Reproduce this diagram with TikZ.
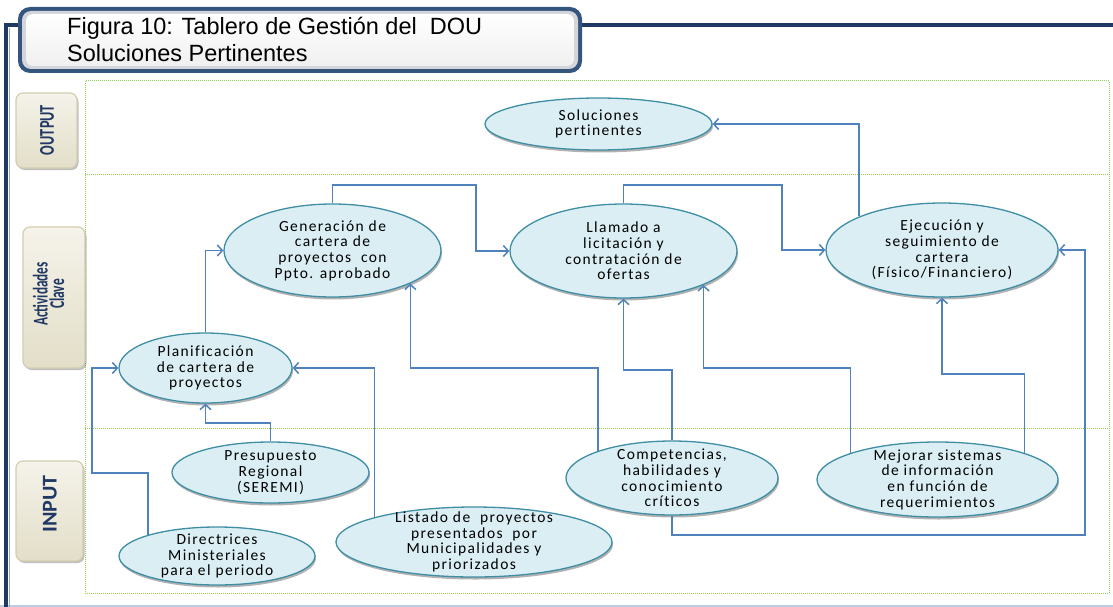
\documentclass[tikz,border=0pt]{standalone}
\usepackage{fontspec}
\setmainfont{Carlito}
\newfontfamily\headfont{Liberation Sans}
\newfontfamily\bubblefont[LetterSpace=9,Ligatures=NoCommon]{Carlito}
\usetikzlibrary{shapes.geometric,arrows.meta,shadows}

\definecolor{flowblue}{HTML}{4F81BD}
\definecolor{bubblefill}{HTML}{DAEEF3}
\definecolor{bubbleedge}{HTML}{3F8EA4}
\definecolor{gridgreen}{HTML}{92D050}
\definecolor{navy}{HTML}{1F3864}
\definecolor{rimblue}{HTML}{35557F}
\definecolor{rimgray}{HTML}{D2D5DA}
\definecolor{lanetop}{HTML}{F5F3EA}
\definecolor{lanebottom}{HTML}{E2DEC8}
\definecolor{laneedge}{HTML}{D3CDB2}
\definecolor{footline}{HTML}{B9CDE5}
\definecolor{edgelight}{HTML}{8DA9D0}

\begin{document}
\begin{tikzpicture}[x=1pt,y=-1pt,
  bubble/.style={ellipse, draw=bubbleedge, line width=1.3pt, fill=bubblefill, inner sep=0pt,
    drop shadow={shadow xshift=1pt, shadow yshift=-2.5pt, fill=black, opacity=0.3}},
  bubbletext/.style={align=center, inner sep=0pt, font=\bubblefont\fontsize{15.5}{15.7}\selectfont},
  flow/.style={draw=flowblue, line width=1.5pt, -{Straight Barb[length=5pt,width=11pt]}},
  lane/.style={draw=laneedge, line width=1.2pt, top color=lanetop, bottom color=lanebottom,
    rounded corners=7pt, inner sep=0pt,
    drop shadow={shadow xshift=1.5pt, shadow yshift=-2pt, fill=black, opacity=0.25}},
  lanetext/.style={rotate=90, align=center, inner sep=0pt, text=navy,
    font=\bfseries\fontsize{21}{16.5}\selectfont},
  laneline/.style={draw=gridgreen, line width=1pt, dash pattern=on 1pt off 1pt},
]
\useasboundingbox (0,0) rectangle (1113,607);

% outer page frame
\draw[footline, line width=2pt] (0,605.5) -- (1113,605.5);
\draw[navy, line width=4.5pt] (6,607) -- (6,25) -- (1113,25);
\draw[edgelight, line width=1.2pt] (9.5,607) -- (9.5,28);

% title plate
\fill[rimblue, rounded corners=12pt] (18,7) rectangle (582,73);
\fill[rimgray, rounded corners=9pt] (22,11) rectangle (578,69);
\shade[top color=white, bottom color=white!94!black, rounded corners=7pt] (26,14) rectangle (574,66);
\node[anchor=base west, inner sep=0pt, font=\headfont\fontsize{23.5}{27}\selectfont] (title1) at (67,35)
  {Figura 10: Tablero de Gestión del\ \ DOU};
\node[anchor=base west, inner sep=0pt, font=\headfont\fontsize{23.5}{27}\selectfont] (title2) at (67,62)
  {Soluciones Pertinentes};

% swim-lane grid
\draw[laneline] (85,81) rectangle (1109,593);
\draw[laneline] (85,174) -- (1109,174);
\draw[laneline] (85,428) -- (1109,428);

% lane labels
\node[lane, minimum width=61pt, minimum height=75pt] (outbox) at (46.5,130.5) {};
\node[lanetext] (outtxt) at (47,130) {\scalebox{0.68}[1]{OUTPUT}};
\node[lane, minimum width=62pt, minimum height=141pt] (actbox) at (54,297.5) {};
\node[lanetext] (acttxt) at (48.5,294) {\scalebox{0.63}[1]{Actividades}\\\scalebox{0.64}[1]{Clave}};
\node[lane, minimum width=67pt, minimum height=100pt] (inbox) at (49.5,511) {};
\node[lanetext] (intxt) at (50,504) {\scalebox{1.05}[1]{INPUT}};

% process bubbles
\node[bubble, minimum width=227pt, minimum height=52pt] (sol) at (598.5,124) {};
\node[bubbletext] (solt) at (sol) {Soluciones\\pertinentes};

\node[bubble, minimum width=217pt, minimum height=93pt] (gen) at (332.5,250.5) {};
\node[bubbletext] (gent) at (gen) {Generación de\\cartera de\\proyectos\ \ con\\Ppto. aprobado};

\node[bubble, minimum width=227pt, minimum height=94pt] (llam) at (623.5,251) {};
\node[bubbletext] (llamt) at (llam) {Llamado a\\licitación y\\contratación de\\ofertas};

\node[bubble, minimum width=232pt, minimum height=94pt] (eje) at (942,250) {};
\node[bubbletext] (ejet) at (eje) {Ejecución y\\seguimiento de\\cartera\\(Físico/Financiero)};

\node[bubble, minimum width=173pt, minimum height=70pt] (plan) at (205.5,368) {};
\node[bubbletext] (plant) at (plan) {Planificación\\de cartera de\\proyectos};

\node[bubble, minimum width=197pt, minimum height=61pt] (pres) at (270.5,472.5) {};
\node[bubbletext] (prest) at (pres) {Presupuesto\\Regional\\(SEREMI)};

\node[bubble, minimum width=196pt, minimum height=58pt] (dir) at (217,556) {};
\node[bubbletext] (dirt) at (dir) {Directrices\\Ministeriales\\para el periodo};

\node[bubble, minimum width=276pt, minimum height=70pt] (list) at (474,542) {};
\node[bubbletext] (listt) at (list) {Listado de\ \ proyectos\\presentados\ \ por\\Municipalidades y\\priorizados};

\node[bubble, minimum width=212pt, minimum height=74pt] (comp) at (672,478) {};
\node[bubbletext] (compt) at (comp) {Competencias,\\habilidades y\\conocimiento\\críticos};

\node[bubble, minimum width=241pt, minimum height=75pt] (mej) at (937.5,479.5) {};
\node[bubbletext] (mejt) at (mej) {Mejorar sistemas\\de información\\en función de\\requerimientos};

% flows between activities
\draw[flow] (plan.north) |- (gen.west);
\draw[flow] (gen.north) |- (476,185) |- (llam.west);
\draw[flow] (llam.north) |- (782,185) |- (eje.west);
\draw[flow] (eje.158) |- (sol.east);

% inputs feeding the activities
\draw[flow] (comp.160) |- (gen.337 |- 0,368) -- (gen.337);
\draw[flow] (comp.north) |- (llam.south |- 0,370) -- (llam.south);
\draw[flow] (mej.163) |- (llam.337 |- 0,368) -- (llam.337);
\draw[flow] (mej.17) |- (eje.south |- 0,374) -- (eje.south);
\draw[flow] (comp.south) |- (1085,535) |- (eje.east);
\draw[flow] (pres.north) |- (plan.south |- 0,423) -- (plan.south);
\draw[flow] (dir.163) |- (92,473) |- (plan.west);
\draw[flow] (list.166) |- (plan.east);
\end{tikzpicture}
\end{document}
